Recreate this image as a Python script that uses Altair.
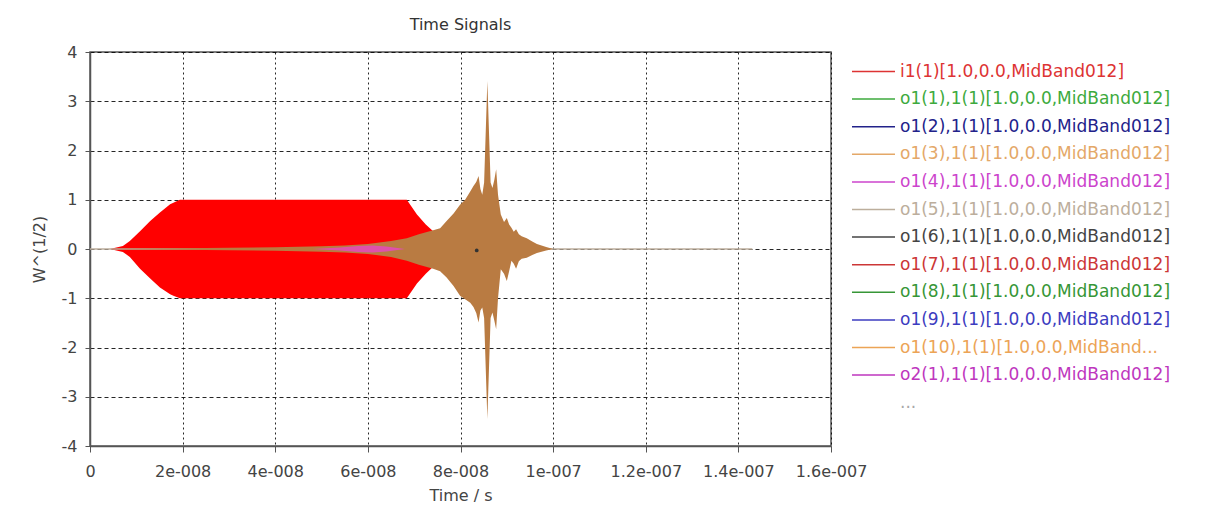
import altair as alt
import pandas as pd

# ---------------- data ----------------
# red input signal i1(1): envelope of a dense oscillation (time in s)
red_t = [0.0, 0.43e-8, 0.71e-8, 0.86e-8, 1.08e-8, 1.30e-8, 1.51e-8, 1.73e-8, 1.80e-8, 1.94e-8,
         6.84e-8, 7.06e-8, 7.25e-8, 7.41e-8, 7.60e-8, 7.80e-8, 8.00e-8]
red_upper = [0.0, 0.0, 0.06, 0.16, 0.36, 0.57, 0.74, 0.91, 0.94, 1.0,
             1.0, 0.70, 0.50, 0.36, 0.22, 0.10, 0.0]
red_lower = [0.0, 0.0, -0.06, -0.16, -0.40, -0.60, -0.78, -0.92, -0.95, -1.0,
             -1.0, -0.70, -0.50, -0.36, -0.22, -0.10, 0.0]

# brown output burst: envelope of the dense oscillation
burst_t = [0.40e-8, 2.0e-8, 3.0e-8, 4.0e-8, 4.5e-8, 5.0e-8, 5.5e-8, 6.0e-8, 6.5e-8, 6.84e-8,
           7.10e-8, 7.41e-8, 7.56e-8, 7.70e-8, 7.85e-8, 7.99e-8, 8.10e-8, 8.21e-8, 8.28e-8, 8.34e-8,
           8.39e-8, 8.43e-8, 8.47e-8, 8.51e-8, 8.58e-8, 8.65e-8, 8.69e-8, 8.73e-8, 8.77e-8, 8.81e-8,
           8.87e-8, 8.94e-8, 9.00e-8, 9.05e-8, 9.10e-8, 9.15e-8, 9.20e-8, 9.26e-8, 9.32e-8, 9.43e-8,
           9.55e-8, 9.65e-8, 9.85e-8, 10.0e-8]
burst_upper = [0.0, 0.015, 0.025, 0.035, 0.045, 0.055, 0.07, 0.10, 0.16, 0.22,
               0.30, 0.38, 0.42, 0.57, 0.72, 0.90, 1.00, 1.17, 1.28, 1.36,
               1.48, 1.22, 1.10, 1.35, 3.41, 1.35, 1.24, 1.40, 1.62, 1.10,
               0.70, 0.55, 0.63, 0.50, 0.43, 0.35, 0.40, 0.30, 0.26, 0.22,
               0.15, 0.10, 0.04, 0.0]
burst_lower = [0.0, -0.015, -0.025, -0.035, -0.045, -0.055, -0.07, -0.10, -0.16, -0.24,
               -0.32, -0.40, -0.45, -0.58, -0.75, -0.95, -1.02, -1.09, -1.18, -1.30,
               -1.49, -1.25, -1.19, -1.40, -3.45, -1.40, -1.29, -1.45, -1.63, -1.00,
               -0.41, -0.50, -0.65, -0.45, -0.24, -0.30, -0.40, -0.25, -0.20, -0.18,
               -0.12, -0.08, -0.03, 0.0]

# thin magenta trace near the centre
pink_t = [4.8e-8, 5.4e-8, 5.8e-8, 6.1e-8, 6.4e-8, 6.8e-8]
pink_upper = [0.0, 0.03, 0.06, 0.07, 0.05, 0.0]
pink_lower = [0.0, -0.03, -0.06, -0.07, -0.05, 0.0]

# flat trace along zero
flat_t = [0.0, 14.3e-8]
flat_v = [0.0, 0.0]
flat_series = "o1(5),1(1)[1.0,0.0,MidBand012]"

# small dark dot
dot_t = [8.35e-8]
dot_v = [-0.03]

# legend
legend_names = [
    "i1(1)[1.0,0.0,MidBand012]",
    "o1(1),1(1)[1.0,0.0,MidBand012]",
    "o1(2),1(1)[1.0,0.0,MidBand012]",
    "o1(3),1(1)[1.0,0.0,MidBand012]",
    "o1(4),1(1)[1.0,0.0,MidBand012]",
    "o1(5),1(1)[1.0,0.0,MidBand012]",
    "o1(6),1(1)[1.0,0.0,MidBand012]",
    "o1(7),1(1)[1.0,0.0,MidBand012]",
    "o1(8),1(1)[1.0,0.0,MidBand012]",
    "o1(9),1(1)[1.0,0.0,MidBand012]",
    "o1(10),1(1)[1.0,0.0,MidBand...",
    "o2(1),1(1)[1.0,0.0,MidBand012]",
    "...",
]
legend_colors = ["#DD3333", "#3DAA3D", "#22228A", "#E4A868", "#CC44CC", "#BCAE9C",
                 "#444444", "#CC3636", "#369636", "#3C3CC0", "#ECA456", "#BE36BE",
                 "transparent"]

x_ticks = [0, 2e-8, 4e-8, 6e-8, 8e-8, 1e-7, 1.2e-7, 1.4e-7, 1.6e-7]
x_tick_labels = ["0", "2e-008", "4e-008", "6e-008", "8e-008", "1e-007",
                 "1.2e-007", "1.4e-007", "1.6e-007"]
y_ticks = [-4, -3, -2, -1, 0, 1, 2, 3, 4]

# ---------------- chart ----------------
FONT = "DejaVu Sans"
red_df = pd.DataFrame({"t": red_t, "up": red_upper, "lo": red_lower})
burst_df = pd.DataFrame({"t": burst_t, "up": burst_upper, "lo": burst_lower})
pink_df = pd.DataFrame({"t": pink_t, "up": pink_upper, "lo": pink_lower})
flat_df = pd.DataFrame({"t": flat_t, "v": flat_v, "series": [flat_series] * len(flat_t)})
dot_df = pd.DataFrame({"t": dot_t, "v": dot_v})

label_array = "[" + ",".join("'" + s + "'" for s in x_tick_labels) + "]"

x_enc = alt.X(
    "t:Q",
    scale=alt.Scale(domain=[0, 1.6e-7], nice=False, zero=False),
    axis=alt.Axis(
        values=x_ticks,
        labelExpr=f"{label_array}[round(datum.value / 2e-8)]",
        labelOverlap=False,
        labelFlush=False,
        title="Time / s",
        grid=True,
        gridDash=[2, 3],
        tickSize=6,
        labelPadding=11,
        titlePadding=8,
    ),
)
y_scale = alt.Scale(domain=[-4, 4], nice=False)
y_axis = alt.Axis(
    values=y_ticks,
    labelExpr="'' + datum.value",
    labelOverlap=False,
    labelFlush=False,
    title="W^(1/2)",
    grid=True,
    gridDash=[4, 3],
    tickSize=5,
    labelPadding=8,
    titlePadding=14,
)

red = alt.Chart(red_df).mark_area(color="#FF0000", opacity=1).encode(
    x=x_enc, y=alt.Y("up:Q", scale=y_scale, axis=y_axis), y2="lo:Q"
)
flat = alt.Chart(flat_df).mark_line(strokeWidth=1.5).encode(
    x="t:Q",
    y="v:Q",
    color=alt.Color(
        "series:N",
        scale=alt.Scale(domain=legend_names, range=legend_colors),
        legend=alt.Legend(
            orient="none",
            legendX=761,
            legendY=8.5,
            title=None,
            symbolType="stroke",
            symbolSize=1849,
            symbolStrokeWidth=1.5,
            clipHeight=22,
            rowPadding=5.6,
            labelFont=FONT,
            labelFontSize=17,
            labelLimit=400,
            labelOffset=4,
            padding=0,
            labelColor=alt.expr(
                "datum.value === '...' ? '#A8A8A8' : scale('color', datum.value)"
            ),
        ),
    ),
)
burst = alt.Chart(burst_df).mark_area(color="#B97B42", opacity=1).encode(
    x="t:Q", y="up:Q", y2="lo:Q"
)
pink = alt.Chart(pink_df).mark_area(color="#F040D8", opacity=0.7).encode(
    x="t:Q", y="up:Q", y2="lo:Q"
)
dot = alt.Chart(dot_df).mark_point(filled=True, color="#333333", size=14, opacity=1).encode(
    x="t:Q", y="v:Q"
)

chart = (
    alt.layer(red, flat, burst, pink, dot)
    .properties(
        width=741,
        height=394,
        autosize=alt.AutoSizeParams(type="none"),
        padding={"left": 90, "top": 52, "right": 375, "bottom": 59},
        background="white",
        title=alt.TitleParams(
            "Time Signals", font=FONT, fontSize=16, fontWeight="normal",
            color="#333333", offset=11, anchor="middle",
        ),
    )
    .configure_view(stroke="#555555", strokeWidth=1.5)
    .configure_axis(
        labelFont=FONT,
        labelFontSize=16,
        labelColor="#444444",
        titleFont=FONT,
        titleFontSize=16,
        titleFontWeight="normal",
        titleColor="#444444",
        domainColor="#555555",
        domainWidth=1.5,
        tickColor="#555555",
        tickWidth=1,
        gridColor="#000000",
        gridOpacity=0.85,
        gridWidth=1,
    )
)

chart.save("out.html", embed_options={"renderer": "svg", "actions": False})
